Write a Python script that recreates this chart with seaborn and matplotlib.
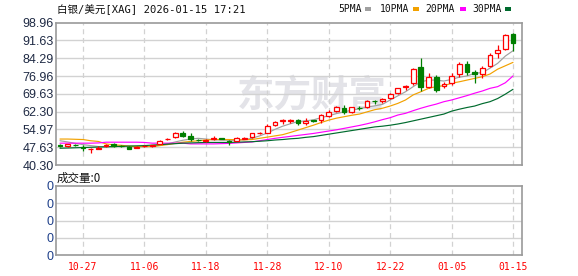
import numpy as np
import pandas as pd
import matplotlib
matplotlib.use("Agg")
import matplotlib.pyplot as plt
import seaborn as sns
from matplotlib.patches import Rectangle

# ---------------- data ----------------
dates = ["10-22", "10-23", "10-24", "10-27", "10-28", "10-29", "10-30", "10-31",
         "11-03", "11-04", "11-05", "11-06", "11-07", "11-10", "11-11", "11-12",
         "11-13", "11-14", "11-17", "11-18", "11-19", "11-20", "11-21", "11-24",
         "11-25", "11-26", "11-27", "11-28",
         "12-01", "12-02", "12-03", "12-04", "12-05", "12-08", "12-09", "12-10",
         "12-11", "12-12", "12-15", "12-16", "12-17", "12-18", "12-19", "12-22",
         "12-23", "12-24", "12-26", "12-29", "12-30", "12-31",
         "01-02", "01-05", "01-06", "01-07", "01-08", "01-09", "01-12", "01-13",
         "01-14", "01-15"]

opens = [48.4, 48.1, 48.7, 47.7, 46.8, 46.9, 48.2, 48.9, 48.3, 47.9,
         47.5, 48.0, 48.2, 49.0, 50.9, 51.7, 53.6, 52.3, 50.8, 50.2,
         51.2, 51.4, 50.3, 50.3, 51.2, 51.7, 53.3, 53.6, 56.7, 58.5,
         58.5, 58.9, 57.5, 58.7, 58.9, 60.5, 62.6, 63.9, 62.0, 64.0,
         64.3, 66.8, 66.6, 67.8, 69.9, 72.4, 74.0, 80.6, 72.6, 76.5,
         73.0, 74.0, 77.7, 82.0, 78.8, 77.7, 81.2, 86.3, 88.0, 94.3]
highs = [48.9, 49.1, 48.9, 48.6, 47.5, 48.0, 48.8, 49.2, 48.6, 48.2,
         48.0, 48.5, 48.7, 50.5, 51.3, 54.0, 54.2, 53.4, 51.0, 50.9,
         52.4, 51.6, 50.5, 51.8, 51.7, 53.5, 53.9, 57.2, 58.6, 59.3,
         59.3, 59.2, 59.6, 59.0, 61.2, 63.0, 64.7, 65.0, 64.3, 64.6,
         67.2, 67.1, 67.8, 69.9, 72.1, 73.3, 80.2, 84.5, 78.1, 77.2,
         74.6, 78.4, 82.9, 83.2, 79.5, 81.1, 86.3, 89.8, 94.4, 94.8]
lows = [47.6, 47.9, 48.2, 46.2, 45.1, 46.7, 47.9, 47.9, 47.8, 46.8,
        47.2, 47.8, 47.9, 48.8, 50.6, 51.4, 52.0, 50.3, 50.1, 49.9,
        50.8, 50.9, 48.6, 50.1, 50.9, 51.4, 53.0, 53.3, 56.5, 57.2,
        57.7, 56.8, 56.9, 58.1, 57.8, 60.0, 62.0, 61.2, 61.8, 63.0,
        64.0, 65.3, 66.0, 67.5, 69.6, 71.3, 73.3, 70.9, 71.9, 70.2,
        72.2, 73.3, 76.7, 77.4, 74.2, 76.3, 80.9, 84.3, 87.9, 87.4]
closes = [48.2, 48.9, 48.5, 47.4, 47.0, 47.5, 48.4, 48.1, 48.1, 47.0,
          47.7, 48.2, 48.4, 50.3, 51.1, 53.6, 52.3, 50.9, 50.5, 50.4,
          51.4, 51.2, 49.6, 51.6, 51.4, 53.3, 53.5, 56.4, 58.2, 58.7,
          58.7, 57.5, 58.6, 58.5, 61.0, 62.0, 64.4, 62.3, 64.1, 63.8,
          66.8, 66.5, 67.4, 69.6, 71.9, 72.7, 79.8, 72.6, 76.5, 71.2,
          73.5, 77.0, 82.0, 78.8, 77.8, 80.2, 85.6, 87.7, 93.9, 90.7]

ma5 = [50.3, 49.8, 49.2, 48.7, 48.3, 47.9, 47.8, 47.9, 48.0, 48.0,
       47.8, 47.9, 48.0, 48.4, 49.0, 49.8, 50.5, 51.0, 51.3, 51.0,
       50.7, 50.6, 50.5, 50.5, 50.7, 51.3, 52.3, 53.5, 55.0, 56.3,
       57.3, 58.2, 58.5, 58.9, 59.8, 60.6, 61.5, 62.2, 62.9, 63.5,
       64.2, 64.7, 65.3, 67.1, 68.8, 70.5, 72.6, 74.6, 75.3, 75.3,
       74.9, 75.6, 76.5, 77.0, 78.1, 78.4, 80.2, 82.2, 85.2, 87.4]
ma10 = [51.0, 51.0, 50.9, 50.8, 50.3, 50.0, 49.0, 48.6, 48.4, 48.1,
        47.9, 47.9, 47.9, 48.3, 48.7, 49.2, 49.7, 50.0, 50.3, 50.6,
        50.8, 50.8, 50.8, 50.7, 50.7, 50.8, 51.3, 51.8, 52.3, 52.8,
        53.7, 54.7, 55.7, 56.7, 57.8, 58.8, 59.6, 60.2, 60.8, 61.3,
        62.2, 63.1, 63.7, 64.6, 65.7, 67.1, 69.2, 70.5, 71.9, 72.6,
        73.0, 74.0, 74.6, 75.3, 76.0, 76.7, 77.8, 79.8, 81.2, 82.6]
ma20 = [49.3, 49.3, 49.3, 49.3, 49.3, 49.4, 49.7, 49.7, 49.7, 49.7,
        49.7, 49.6, 49.3, 49.3, 49.3, 49.3, 49.3, 49.0, 49.0, 49.0,
        49.0, 49.1, 49.2, 49.4, 49.6, 49.8, 50.3, 50.8, 51.3, 51.7,
        52.1, 52.5, 52.9, 53.3, 53.8, 54.3, 54.8, 55.4, 56.0, 56.6,
        57.3, 58.1, 59.0, 59.8, 60.9, 61.6, 62.7, 63.7, 64.6, 65.4,
        66.4, 67.1, 68.0, 68.9, 69.9, 70.8, 71.9, 72.6, 74.2, 77.0]
ma30 = [47.2, 47.3, 47.4, 47.5, 47.6, 47.7, 47.8, 47.9, 48.0, 48.1,
        48.2, 48.3, 48.5, 48.7, 48.9, 49.1, 49.3, 49.4, 49.5, 49.6,
        49.6, 49.6, 49.6, 49.7, 49.8, 49.9, 50.1, 50.3, 50.6, 50.8,
        51.1, 51.3, 51.7, 52.0, 52.5, 53.0, 53.5, 54.0, 54.5, 55.0,
        55.5, 56.0, 56.3, 56.7, 57.2, 57.8, 58.5, 59.2, 59.9, 60.6,
        61.3, 62.5, 63.3, 64.0, 64.6, 65.6, 66.4, 67.7, 69.5, 71.5]

tick_labels = ["10-27", "11-06", "11-18", "11-28", "12-10", "12-22", "01-05", "01-15"]
price_ticks = [40.30, 47.63, 54.97, 62.30, 69.63, 76.96, 84.29, 91.63, 98.96]
ma_names = ["5PMA", "10PMA", "20PMA", "30PMA"]
title_text = "白银/美元[XAG] 2026-01-15 17:21"
volume_text = "成交量:0"
watermark_text = "东方财富"

# ---------------- styling ----------------
ma_colors = ["#a0a0a0", "#f2a100", "#ff00ff", "#006b2e"]
UP = "#ff0000"
DOWN = "#007f00"
GRID = "#d2d2d2"
FRAME = "#9a9a9a"
LABEL = "#1f2a44"

sns.set_theme(style="white")
plt.rcParams["font.family"] = ["Liberation Sans", "Noto Sans CJK SC", "DejaVu Sans"]

W, H = 578, 276
fig = plt.figure(figsize=(W / 100, H / 100), dpi=100)
fig.patch.set_facecolor("white")

L, R = 56, 522
ax = fig.add_axes([L / W, 1 - 165 / H, (R - L) / W, (165 - 22.7) / H])
axv = fig.add_axes([L / W, 1 - 255 / H, (R - L) / W, (255 - 186) / H])

n = len(dates)
x = np.arange(n)
df = pd.DataFrame({"x": x, "open": opens, "high": highs, "low": lows, "close": closes})

# moving averages via seaborn
ma_df = pd.DataFrame({"x": x, "5PMA": ma5, "10PMA": ma10, "20PMA": ma20, "30PMA": ma30})
long_df = ma_df.melt(id_vars="x", var_name="ma", value_name="v")
sns.lineplot(data=long_df, x="x", y="v", hue="ma", hue_order=ma_names,
             palette=dict(zip(ma_names, ma_colors)), linewidth=0.85, ax=ax,
             legend=False, zorder=3)

# candles
up = df["close"] >= df["open"]
colors = np.where(up, UP, DOWN)
ax.vlines(df["x"], df["low"], df["high"], colors=colors, linewidth=0.9, zorder=4)
body_bottom = np.minimum(df["open"], df["close"])
body_h = np.maximum(np.abs(df["close"] - df["open"]), 0.08)
ax.bar(df["x"][up], body_h[up], bottom=body_bottom[up], width=0.62,
       facecolor="white", edgecolor=UP, linewidth=0.9, zorder=5)
ax.bar(df["x"][~up], body_h[~up], bottom=body_bottom[~up], width=0.62,
       facecolor=DOWN, edgecolor=DOWN, linewidth=0.9, zorder=5)

xlim = (-0.52, n - 1 + 9 / 7.68)
tick_pos = [dates.index(t) for t in tick_labels]

for a in (ax, axv):
    a.set_xlim(*xlim)
    a.set_xlabel("")
    a.set_ylabel("")
    for s in a.spines.values():
        s.set_color(FRAME)
        s.set_linewidth(1.2)
    for p in tick_pos:
        a.axvline(p, color=GRID, linestyle=(0, (4, 3)), linewidth=0.9, zorder=1)
    a.set_xticks(tick_pos)
    a.tick_params(axis="both", length=0)

ax.set_ylim(price_ticks[0], price_ticks[-1])
ax.set_yticks(price_ticks)
ax.set_yticklabels([f"{v:.2f}" for v in price_ticks], fontsize=9, color=LABEL)
ax.tick_params(axis="y", pad=1.5)
for v in price_ticks[1:-1]:
    ax.axhline(v, color=GRID, linewidth=1.0, zorder=1)
ax.set_xticklabels([])

# watermark
ax.text((237 - L) / (R - L), (165 - 96) / (165 - 22.7), watermark_text,
        transform=ax.transAxes, fontsize=27, fontweight="bold",
        color="#e3e3e8", family=["Noto Sans CJK SC"], ha="left", va="center", zorder=0)

# volume panel (empty)
axv.set_ylim(0, 4)
axv.set_yticks([0, 1, 2, 3, 4])
axv.set_yticklabels(["0"] * 5, fontsize=9, color="#1e3f8a")
axv.tick_params(axis="y", pad=1.5)
for v in [1, 2, 3]:
    axv.axhline(v, color=GRID, linewidth=1.0, zorder=1)
axv.set_xticklabels(tick_labels, fontsize=7, color="#ff0000",
                    family=["DejaVu Sans Mono"])
axv.tick_params(axis="x", pad=5)

# title & legend texts
fig.text(57 / W, 1 - 10 / H, title_text, fontsize=7.6, color="#111111",
         family=["DejaVu Sans Mono", "Noto Sans CJK SC"], ha="left", va="center")
fig.text(57 / W, 1 - 178 / H, volume_text, fontsize=8.3, color="#111111",
         family=["Noto Sans CJK SC", "DejaVu Sans"], ha="left", va="center")

leg_x = [338, 380, 425, 472]
sq_x = [365, 413, 460, 505]
for name, col, tx, sx in zip(ma_names, ma_colors, leg_x, sq_x):
    fig.text(tx / W, 1 - 9.5 / H, name, fontsize=7, color="#111111",
             family=["DejaVu Sans Mono"], ha="left", va="center")
    fig.patches.append(Rectangle((sx / W, 1 - 10.5 / H), 6 / W, 3 / H,
                                 transform=fig.transFigure, facecolor=col,
                                 edgecolor="none"))

fig.savefig("out.png", dpi=100, facecolor="white")
